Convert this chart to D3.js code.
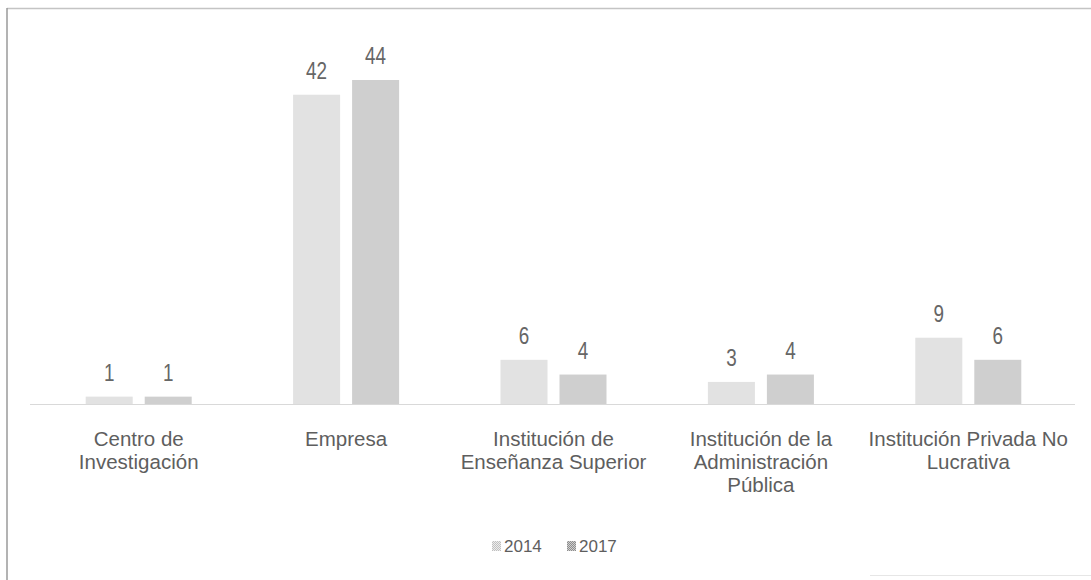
<!DOCTYPE html>
<html>
<head>
<meta charset="utf-8">
<script src="https://cdn.jsdelivr.net/npm/d3@7"></script>
<style>
  html, body { margin: 0; padding: 0; background: #ffffff; }
  svg { display: block; }
  text { font-family: "Liberation Sans", Arial, sans-serif; fill: #5e5e5e; }
</style>
</head>
<body>
<svg id="chart" width="1091" height="580"></svg>
<script>
// Entidades por tipo, 2014 frente a 2017
const categories = [
  "Centro de Investigación",
  "Empresa",
  "Institución de Enseñanza Superior",
  "Institución de la Administración Pública",
  "Institución Privada No Lucrativa"
];
// Etiquetas del eje, partidas en líneas
const categoryLines = [
  ["Centro de", "Investigación"],
  ["Empresa"],
  ["Institución de", "Enseñanza Superior"],
  ["Institución de la", "Administración", "Pública"],
  ["Institución Privada No", "Lucrativa"]
];
const seriesNames = ["2014", "2017"];
const values2014 = [1, 42, 6, 3, 9];
const values2017 = [1, 44, 4, 4, 6];
const seriesColors = ["#e2e2e2", "#cfcfcf"];

const svg = d3.select("#chart");
const W = 1091, H = 580;

// marco del gráfico
svg.append("line").attr("x1", 7).attr("x2", W).attr("y1", 8.5).attr("y2", 8.5)
  .attr("stroke", "#c4c4c4").attr("stroke-width", 1.5);
svg.append("line").attr("x1", 7).attr("x2", 7).attr("y1", 8).attr("y2", H)
  .attr("stroke", "#9a9a9a").attr("stroke-width", 1.5);
svg.append("line").attr("x1", 870).attr("x2", W).attr("y1", 575.5).attr("y2", 575.5)
  .attr("stroke", "#e6e6e6").attr("stroke-width", 1);

const baseline = 404;
const x0 = d3.scaleBand().domain(categories).range([35, 1072]).padding(0);
const groupWidth = 106;
const x1 = d3.scaleBand().domain(seriesNames).range([0, groupWidth])
  .paddingInner(0.2034).paddingOuter(0);
const yMax = d3.max(values2014.concat(values2017));
const y = d3.scaleLinear().domain([0, yMax]).range([baseline, 80]);

const rows = categories.map((c, i) => ({
  cat: c,
  vals: [
    { s: seriesNames[0], v: values2014[i], color: seriesColors[0] },
    { s: seriesNames[1], v: values2017[i], color: seriesColors[1] }
  ]
}));

// eje horizontal
svg.append("line")
  .attr("x1", 30).attr("x2", 1075)
  .attr("y1", baseline + 0.5).attr("y2", baseline + 0.5)
  .attr("stroke", "#d9d9d9").attr("stroke-width", 1.2);

const groups = svg.append("g").selectAll("g")
  .data(rows).join("g")
  .attr("transform", d => `translate(${x0(d.cat) + (x0.bandwidth() - groupWidth) / 2},0)`);

groups.selectAll("rect")
  .data(d => d.vals).join("rect")
  .attr("x", d => x1(d.s))
  .attr("width", x1.bandwidth())
  .attr("y", d => y(d.v))
  .attr("height", d => y(0) - y(d.v))
  .attr("fill", d => d.color);

// valores sobre cada barra
groups.selectAll("text.val")
  .data(d => d.vals).join("text")
  .attr("class", "val")
  .attr("transform", d => `translate(${x1(d.s) + x1.bandwidth() / 2},${y(d.v) - 16}) scale(0.82,1)`)
  .attr("text-anchor", "middle")
  .style("font-size", "23px")
  .style("fill", "#666666")
  .text(d => d.v);

// etiquetas de categoría
const xAxis = d3.axisBottom(x0).tickSize(0).tickFormat("");
const axisG = svg.append("g").attr("transform", `translate(0,${baseline})`).call(xAxis);
axisG.select(".domain").remove();
axisG.selectAll(".tick").each(function (d, i) {
  const t = d3.select(this).append("text")
    .attr("text-anchor", "middle")
    .style("font-size", "20.5px");
  categoryLines[i].forEach((line, k) => {
    t.append("tspan").attr("x", 0).attr("y", 42 + k * 23).text(line);
  });
});

// leyenda
const legendItems = [
  { name: seriesNames[0], x: 492 },
  { name: seriesNames[1], x: 567 }
];
const defs = svg.append("defs");
[["pat2014", "#c0c0c0", "#ececec"], ["pat2017", "#8e8e8e", "#cfcfcf"]].forEach(([id, dark, light]) => {
  const p = defs.append("pattern").attr("id", id).attr("width", 2).attr("height", 2)
    .attr("patternUnits", "userSpaceOnUse");
  p.append("rect").attr("width", 2).attr("height", 2).attr("fill", light);
  p.append("rect").attr("width", 1).attr("height", 1).attr("fill", dark);
  p.append("rect").attr("x", 1).attr("y", 1).attr("width", 1).attr("height", 1).attr("fill", dark);
});
const leg = svg.append("g").selectAll("g").data(legendItems).join("g")
  .attr("transform", d => `translate(${d.x},0)`);
leg.append("rect").attr("x", 0).attr("y", 541).attr("width", 9).attr("height", 10)
  .attr("fill", d => `url(#pat${d.name})`);
leg.append("text").attr("x", 12).attr("y", 552)
  .style("font-size", "17px")
  .text(d => d.name);
</script>
</body>
</html>
